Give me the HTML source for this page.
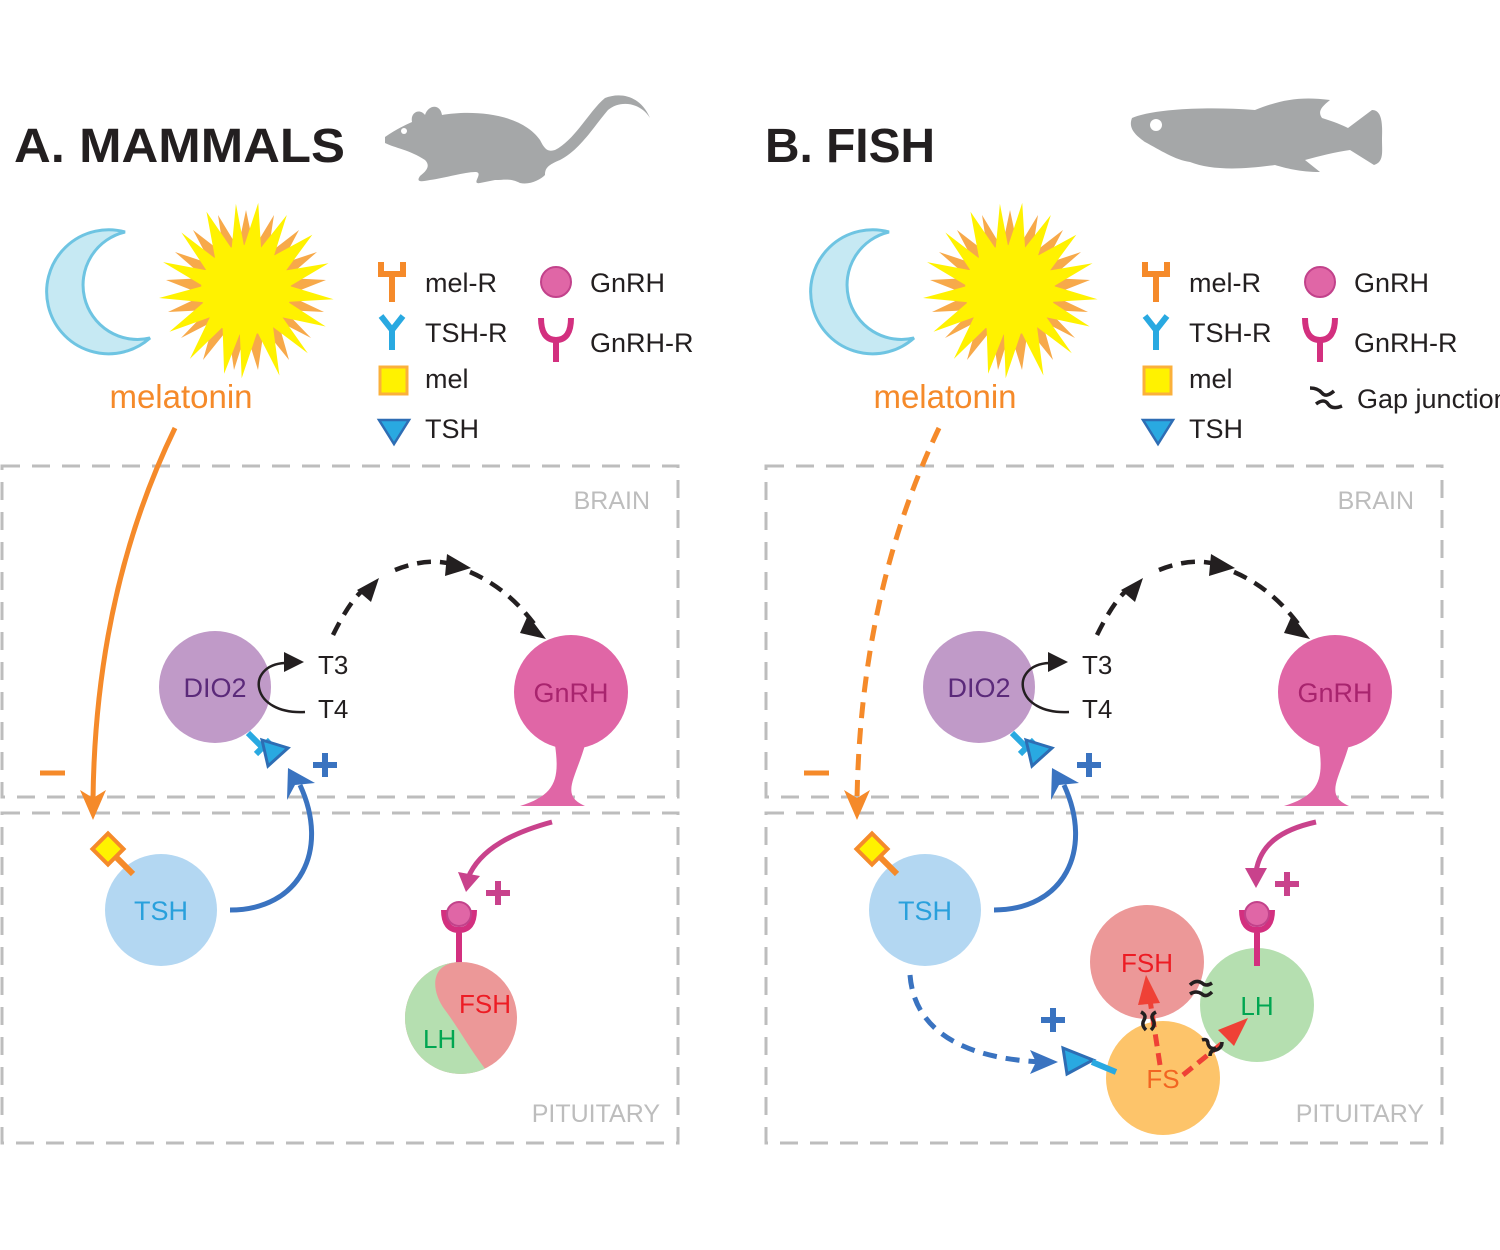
<!DOCTYPE html>
<html><head><meta charset="utf-8"><style>
html,body{margin:0;padding:0;background:#fff;width:1500px;height:1250px;overflow:hidden}
text{font-family:"Liberation Sans",sans-serif}
</style></head><body>
<svg width="1500" height="1250" viewBox="0 0 1500 1250" xmlns="http://www.w3.org/2000/svg">
<defs>
<g id="top">
  <path d="M125,232 A62,62 0 1 0 150,338 A52,52 0 1 1 125,232z" fill="#c6e9f3" stroke="#6ec4e2" stroke-width="3"/>
  <g transform="translate(246,290)">
    <polygon fill="#f7a94a" points="0,-80 8,-42 28,-75 22,-36 53,-60 35,-26 71,-38 41,-12 80,-10 42,5 78,22 38,20 65,48 32,31 43,70 18,39 12,80 0,42 -12,80 -18,39 -43,70 -32,31 -65,48 -38,20 -78,22 -42,5 -80,-10 -41,-12 -71,-38 -35,-26 -53,-60 -22,-36 -28,-75 -8,-42"/>
    <polygon fill="#fff200" transform="rotate(8)" points="0,-88 9,-44 30,-80 23,-38 58,-64 37,-25 78,-38 43,-10 88,-3 43,6 84,25 40,22 70,54 32,33 45,80 17,40 8,88 0,44 -10,86 -18,40 -46,76 -32,32 -70,52 -40,18 -85,20 -43,2 -86,-16 -42,-14 -72,-48 -35,-27 -50,-72 -20,-39 -22,-84 -8,-43"/>
    <circle r="45" fill="#fff200"/>
  </g>
  <text x="181" y="408" font-size="33" fill="#f58a2a" text-anchor="middle">melatonin</text>
  <path d="M381,262 v12 h11 v28 M403,262 v12 h-11" fill="none" stroke="#f58a2a" stroke-width="6"/>
  <path d="M381,316 l11,14 v20 M403,316 l-11,14" fill="none" stroke="#29a9e1" stroke-width="6"/>
  <rect x="380" y="367" width="27" height="27" fill="#fff200" stroke="#fbb03b" stroke-width="3"/>
  <path d="M379,420 h30 l-15,24z" fill="#29a9e1" stroke="#2e6db4" stroke-width="2.5"/>
  <g font-size="27" fill="#231f20">
    <text x="425" y="292">mel-R</text><text x="425" y="342">TSH-R</text>
    <text x="425" y="388">mel</text><text x="425" y="438">TSH</text>
    <text x="590" y="292">GnRH</text><text x="590" y="352">GnRH-R</text>
  </g>
  <circle cx="556" cy="282" r="15" fill="#e066a6" stroke="#c2428b" stroke-width="2"/>
  <path d="M541,318 q0,22 15,22 q15,0 15,-22 M556,340 v22" fill="none" stroke="#d3307f" stroke-width="6"/>
  <g fill="none" stroke="#bdbdbd" stroke-width="3" stroke-dasharray="18,12">
    <rect x="2" y="466" width="676" height="331"/>
    <rect x="2" y="813" width="676" height="330"/>
  </g>
  <text x="650" y="509" font-size="25" fill="#bdbdbd" text-anchor="end">BRAIN</text>
  <text x="660" y="1122" font-size="25" fill="#bdbdbd" text-anchor="end">PITUITARY</text>
  <circle cx="215" cy="687" r="56" fill="#c09ac8"/>
  <text x="215" y="697" font-size="27" fill="#5b2a7a" text-anchor="middle">DIO2</text>
  <path d="M305,712 C250,715 245,665 285,663" fill="none" stroke="#231f20" stroke-width="2.5"/>
  <path d="M284,652 l20,10 l-20,10z" fill="#231f20"/>
  <text x="318" y="674" font-size="26" fill="#231f20">T3</text>
  <text x="318" y="718" font-size="26" fill="#231f20">T4</text>
  <path d="M333,635 C350,600 365,585 370,588 M395,570 C420,560 440,560 455,565 M470,572 C500,585 520,605 535,625" fill="none" stroke="#231f20" stroke-width="4.5" stroke-dasharray="14,9"/>
  <path d="M357,590 l22,-12 l-8,24z" fill="#231f20"/>
  <path d="M447,554 l24,14 l-26,8z" fill="#231f20"/>
  <path d="M528,615 l18,24 l-26,-6z" fill="#231f20"/>
  <path d="M555,745 C560,780 555,795 520,806 L585,806 C560,795 575,780 585,745z" fill="#e066a6"/>
  <circle cx="571" cy="692" r="57" fill="#e066a6"/>
  <text x="571" y="702" font-size="27" fill="#a8246e" text-anchor="middle">GnRH</text>
  <path d="M40,773 h25" stroke="#f58a2a" stroke-width="5"/>
  <circle cx="161" cy="910" r="56" fill="#b3d7f2"/>
  <text x="161" y="920" font-size="27" fill="#29a0dc" text-anchor="middle">TSH</text>
  <path d="M133,874 l-20,-20" stroke="#f58a2a" stroke-width="6"/>
  <rect x="97" y="838" width="22" height="22" fill="#fff200" stroke="#f58a2a" stroke-width="4" transform="rotate(45 108 849)"/>
  <path d="M230,910 C300,910 330,850 300,785" fill="none" stroke="#3a73c0" stroke-width="5"/>
  <path d="M288,768 l27,15 l-20,2 l-8,15z" fill="#3a73c0"/>
  <path d="M248,733 l16,16 M256,754 l14,-14" stroke="#29a9e1" stroke-width="6"/>
  <path d="M262,740 l26,8 l-20,18z" fill="#29a9e1" stroke="#2e6db4" stroke-width="3"/>
  <path d="M313,765 h24 M325,753 v24" stroke="#3a73c0" stroke-width="6"/>
</g>
</defs>

<text x="14" y="162" font-size="48" font-weight="bold" fill="#231f20" textLength="331" lengthAdjust="spacingAndGlyphs">A. MAMMALS</text>
<text x="765" y="162" font-size="48" font-weight="bold" fill="#231f20" textLength="170" lengthAdjust="spacingAndGlyphs">B. FISH</text>
<path fill="#a5a7a8" d="M385,137 C395,130 405,125 412,122 C410,112 420,108 425,115 C428,105 440,103 442,115 C470,110 520,112 540,140 C545,150 548,152 555,150 C575,140 590,110 605,98 C620,92 640,95 650,118 C640,102 620,100 608,110 C595,125 580,150 560,160 C548,165 545,168 545,175 C540,180 530,185 520,183 C510,178 505,180 495,180 L480,183 C470,185 485,172 475,172 C465,172 445,178 430,180 C420,182 416,182 420,176 C428,170 430,165 425,160 C410,150 395,148 385,143z"/>
<circle cx="404" cy="131" r="3" fill="#fff"/>
<!-- fish -->
<path fill="#a5a7a8" d="M1132,118 C1150,110 1200,106 1255,110 C1280,100 1300,96 1330,100 C1320,108 1318,112 1322,118 C1335,122 1342,125 1348,128 L1372,110 C1384,110 1382,130 1382,140 C1382,152 1384,162 1374,165 L1350,150 C1335,152 1320,156 1305,160 L1320,172 C1300,172 1285,168 1275,165 C1240,170 1210,170 1190,162 C1175,160 1160,150 1145,142 C1135,135 1128,128 1132,118z"/>
<circle cx="1156" cy="125" r="6" fill="#fff"/>

<use href="#top"/>
<use href="#top" x="764"/>

<path d="M175,428 C140,500 95,620 93,800" fill="none" stroke="#f58a2a" stroke-width="5"/>
<path d="M80,790 l13,30 l13,-30 l-13,8z" fill="#f58a2a"/>
<path d="M552,822 C515,832 480,848 468,878" fill="none" stroke="#c9428c" stroke-width="5"/>
<path d="M458,872 l8,20 l14,-16z" fill="#c9428c"/>
<path d="M486,893 h24 M498,881 v24" stroke="#c9428c" stroke-width="6"/>
<path d="M444,910 q0,20 15,20 q15,0 15,-20 M459,930 v38" fill="none" stroke="#d3307f" stroke-width="6"/>
<circle cx="459" cy="914" r="12" fill="#e066a6" stroke="#c2428b" stroke-width="2"/>
<clipPath id="cl"><circle cx="461" cy="1018" r="56"/></clipPath>
<g clip-path="url(#cl)">
  <rect x="400" y="960" width="130" height="120" fill="#ec9898"/>
  <path d="M461,962 C430,962 430,990 445,1010 C460,1030 470,1050 490,1075 L400,1075 L400,962z" fill="#b5dfb0"/>
</g>
<text x="511" y="1013" font-size="26" fill="#ed1c24" text-anchor="end">FSH</text>
<text x="423" y="1048" font-size="26" fill="#00a651">LH</text>

<path d="M939,428 C905,500 860,620 857,800" fill="none" stroke="#f58a2a" stroke-width="5" stroke-dasharray="16,10"/>
<path d="M844,790 l13,30 l13,-30 l-13,8z" fill="#f58a2a"/>
<path d="M1316,822 C1280,830 1260,845 1256,872" fill="none" stroke="#c9428c" stroke-width="5"/>
<path d="M1245,868 l11,20 l11,-20z" fill="#c9428c"/>
<path d="M1275,884 h24 M1287,872 v24" stroke="#c9428c" stroke-width="6"/>
<!-- gap junction legend -->
<g fill="none" stroke="#231f20" stroke-width="3.5">
  <path d="M1310,388 q8,0 12,5 q4,5 12,-2"/>
  <path d="M1316,404 q8,-6 12,0 q4,6 14,2"/>
</g>
<text x="1357" y="408" font-size="27" fill="#231f20">Gap junction</text>
<circle cx="1147" cy="962" r="57" fill="#ec9898"/>
<circle cx="1257" cy="1005" r="57" fill="#b5dfb0"/>
<circle cx="1163" cy="1078" r="57" fill="#fdc46a"/>
<text x="1147" y="972" font-size="26" fill="#ed1c24" text-anchor="middle">FSH</text>
<text x="1257" y="1015" font-size="26" fill="#00a651" text-anchor="middle">LH</text>
<text x="1163" y="1088" font-size="26" fill="#f26522" text-anchor="middle">FS</text>
<path d="M1242,910 q0,20 15,20 q15,0 15,-20 M1257,930 v36" fill="none" stroke="#d3307f" stroke-width="6"/>
<circle cx="1257" cy="914" r="12" fill="#e066a6" stroke="#c2428b" stroke-width="2"/>
<path d="M1160,1065 L1150,1000" stroke="#ef4136" stroke-width="5" stroke-dasharray="12,7"/>
<path d="M1138,1005 l8,-30 l14,28z" fill="#ef4136"/>
<path d="M1183,1075 L1230,1037" stroke="#ef4136" stroke-width="5" stroke-dasharray="12,7"/>
<path d="M1218,1030 l30,-12 l-14,28z" fill="#ef4136"/>
<g fill="none" stroke="#231f20" stroke-width="3.5">
  <path d="M1141,1012 q6,3 3,8 q-3,5 2,10"/>
  <path d="M1156,1012 q-6,3 -3,8 q3,5 -2,10"/>
  <path d="M1190,985 q6,-6 12,-2 q4,4 10,0"/>
  <path d="M1190,994 q6,-4 12,0 q4,4 10,-2"/>
  <path d="M1202,1040 q6,-2 6,4 q2,6 8,4"/>
  <path d="M1210,1056 q0,-6 6,-6 q6,-2 6,-8"/>
</g>
<path d="M910,975 C915,1040 980,1060 1045,1062" fill="none" stroke="#3a73c0" stroke-width="5" stroke-dasharray="14,9"/>
<path d="M1030,1050 l28,12 l-28,12 l6,-12z" fill="#3a73c0"/>
<path d="M1063,1048 l30,12 l-26,14z" fill="#29a9e1" stroke="#2e6db4" stroke-width="3"/>
<path d="M1092,1062 l24,10" stroke="#29a9e1" stroke-width="6"/>
<path d="M1041,1020 h24 M1053,1008 v24" stroke="#3a73c0" stroke-width="6"/>
</svg>
</body></html>
